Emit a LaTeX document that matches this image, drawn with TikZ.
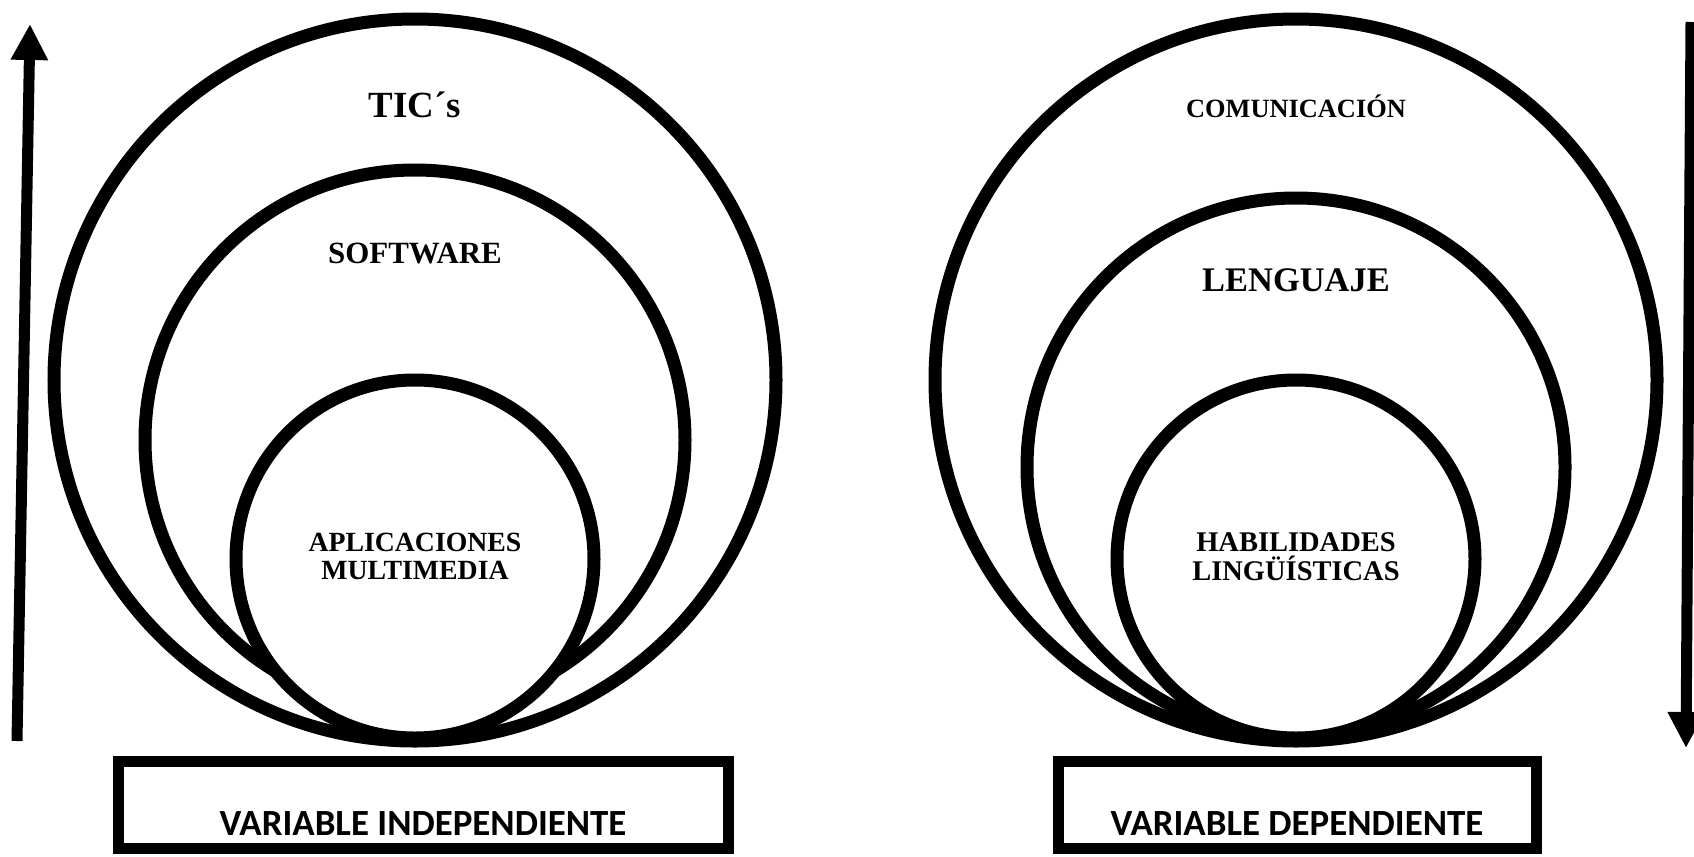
\documentclass[tikz,border=0pt]{standalone}
\usepackage{fontspec}
\setmainfont{Liberation Serif}
\newfontfamily\boxfont{Carlito}
\usetikzlibrary{arrows.meta, positioning}

\begin{document}
\begin{tikzpicture}[line width=0.13cm,
        ring/.style={draw, circle, fill=white, inner sep=0pt},
        lbl/.style={font=\bfseries, align=center, inner sep=0pt},
        varbox/.style={draw, rectangle, line width=0.11cm, inner ysep=0.08cm,
            text height=0.66cm, text depth=0.05cm,
            font=\boxfont\fontsize{10.5}{12}\selectfont\bfseries},
        bigarrow/.style={line width=0.11cm, -{Triangle[length=0.36cm,width=0.35cm]}}]
    \useasboundingbox (0,0) rectangle (16.94,8.56);

    % independiente
    \node[ring, minimum size=7.22cm] (tic) at (4.15,4.76) {};
    \node[ring, minimum size=5.40cm] (soft) at (4.15,4.16) {};
    \node[ring, minimum size=3.58cm] (apli) at (4.15,2.97) {};
    \node[lbl, font=\fontsize{10.5}{12}\selectfont\bfseries] (tictxt) at (4.15,7.51) {TIC´s};
    \node[lbl, font=\fontsize{8.8}{10}\selectfont\bfseries] (softtxt) at (4.15,6.03) {SOFTWARE};
    \node[lbl, font=\fontsize{7.9}{8}\selectfont\bfseries] (aplitxt) at (4.15,3.00) {APLICACIONES\\MULTIMEDIA};

    % dependiente
    \node[ring, minimum size=7.22cm] (com) at (12.96,4.76) {};
    \node[ring, minimum size=5.38cm] (len) at (12.96,3.89) {};
    \node[ring, minimum size=3.58cm] (hab) at (12.96,2.97) {};
    \node[lbl, font=\fontsize{7.5}{9}\selectfont\bfseries] (comtxt) at (12.96,7.50) {COMUNICACIÓN};
    \node[lbl, font=\fontsize{9.8}{11}\selectfont\bfseries] (lentxt) at (12.96,5.76) {LENGUAJE};
    \node[lbl, font=\fontsize{8.1}{8.2}\selectfont\bfseries] (habtxt) at (12.96,2.99) {HABILIDADES\\LINGÜÍSTICAS};

    % cajas
    \node[varbox, minimum width=6.10cm] (vi) at (4.23,0.515) {VARIABLE INDEPENDIENTE};
    \node[varbox, minimum width=4.78cm] (vd) at (12.97,0.515) {VARIABLE DEPENDIENTE};

    % flechas
    \coordinate (ua) at (0.17,1.15);
    \coordinate (ub) at (0.30,8.32);
    \coordinate (da) at (16.91,8.34);
    \coordinate (db) at (16.86,1.08);
    \draw[bigarrow] (ua) -- (ub);
    \draw[bigarrow] (da) -- (db);
\end{tikzpicture}
\end{document}
